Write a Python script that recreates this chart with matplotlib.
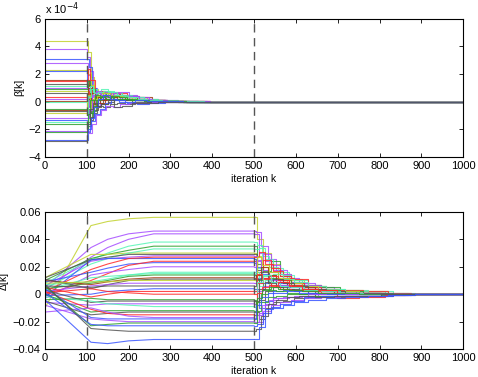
"""Two-panel convergence plot: beta[k] (top) and Delta[k] (bottom) vs iteration k."""

import matplotlib
matplotlib.use("Agg")
import matplotlib.pyplot as plt  # noqa: E402
from matplotlib.ticker import FuncFormatter  # noqa: E402

plt.rcParams["font.family"] = ["Liberation Sans", "DejaVu Sans"]

# ---------------- top panel: beta[k], values in units of 1e-4 ----------------
# step knots (value at knot holds until the next knot); lines cycle through the sets
beta_knot_sets = [
    [0, 104, 110, 118, 128, 140, 155, 172, 192, 215, 245, 280, 330, 380, 1000],
    [0, 101, 107, 114, 124, 135, 150, 166, 185, 207, 236, 270, 318, 365, 1000],
    [0, 106, 113, 122, 133, 146, 162, 180, 200, 224, 255, 292, 345, 395, 1000],
    [0, 102, 108, 120, 131, 143, 159, 176, 196, 220, 250, 286, 338, 388, 1000],
]
beta_start = [4.4, 3.8, 3.1, 2.8, 2.3, 2.25, 1.6, 1.5, 1.3, 1.1, 1.0, 0.9, 0.75, 0.6, 0.3,
              0.2, 0.05, -0.05, -0.5, -0.6, -0.7, -0.85, -1.2, -1.3, -1.5, -1.6, -2.1, -2.2,
              -2.8, -2.85]
beta_s1 = [3.6, 3.2, 2.5, 1.9, 2.0, 1.2, 1.1, 2.4, 0.6, 0.9, -0.4, 1.5, 0.2, -1.0, 0.8,
           -0.3, 1.0, 0.4, -1.2, 0.2, -1.8, 0.5, -0.6, -2.2, 0.3, -1.5, -2.3, -0.9, -2.0, -1.6]
beta_s2 = [1.8, 2.2, 1.0, 0.5, 1.2, -0.4, 0.6, 1.6, -0.8, 0.7, 0.3, 0.9, -0.6, -1.3, 0.5,
           0.4, 0.2, 1.1, -0.7, 0.6, -1.1, -0.2, 0.5, -1.4, 0.9, -0.8, -1.6, 0.1, -1.2, -0.5]
beta_s3 = [0.9, 1.0, 0.4, -0.3, 0.8, 0.2, 0.3, 0.7, -0.4, 0.9, 0.6, 0.2, 0.3, -0.8, 0.1,
           0.7, -0.2, 0.5, 0.4, 0.3, -0.6, 0.2, 0.8, -0.9, 0.6, -0.3, -1.0, 0.5, -0.4, -0.1]
beta_s4 = [0.6, 0.7, 0.5, 0.2, 0.4, 0.6, 0.1, 0.8, -0.1, 0.6, 0.3, 0.5, 0.7, -0.4, 0.4,
           0.5, 0.3, 0.2, 0.6, -0.1, -0.3, 0.4, 0.5, -0.5, 0.7, 0.1, -0.6, 0.3, 0.2, -0.3]
beta_s5 = [0.5, 0.8, 0.3, 0.6, 0.7, 0.4, 0.5, 0.6, 0.2, 0.9, 0.4, 0.3, 0.6, -0.2, 0.5,
           0.7, 0.1, 0.4, 0.3, 0.2, -0.4, 0.6, 0.3, -0.1, 0.8, 0.4, -0.3, 0.2, 0.5, -0.2]
beta_s6 = [0.6, 0.5, 0.4, 0.7, 0.5, 0.3, 0.6, 0.4, 0.3, 0.8, 0.2, 0.5, 0.4, 0.0, 0.6,
           0.5, 0.3, 0.7, 0.2, 0.4, -0.2, 0.5, 0.6, 0.1, 0.7, 0.3, -0.4, 0.4, 0.2, 0.1]
beta_s7 = [0.4, 0.6, 0.5, 0.4, 0.3, 0.5, 0.4, 0.6, 0.2, 0.6, 0.4, 0.3, 0.5, 0.1, 0.4,
           0.3, 0.5, 0.5, 0.2, 0.3, -0.1, 0.4, 0.7, 0.0, 0.5, 0.2, -0.2, 0.3, 0.1, -0.4]
beta_s8 = [0.3, 0.4, 0.3, 0.5, 0.3, 0.2, 0.4, 0.3, 0.1, 0.5, 0.2, 0.4, 0.2, 0.1, 0.3,
           0.4, 0.2, 0.4, 0.1, 0.2, -0.2, 0.3, 0.4, -0.1, 0.3, 0.2, -0.1, 0.2, 0.0, -0.3]
beta_s9 = [0.2, 0.3, 0.2, 0.2, 0.3, 0.1, 0.3, 0.2, 0.1, 0.3, 0.2, 0.2, 0.1, 0.0, 0.2,
           0.3, 0.1, 0.3, 0.1, 0.1, -0.1, 0.2, 0.2, -0.2, 0.2, 0.1, -0.1, 0.1, 0.1, -0.1]
beta_s10 = [0.1, 0.2, 0.1, 0.15, 0.1, 0.05, 0.15, 0.1, 0.05, 0.2, 0.1, 0.1, 0.05, 0.0, 0.1,
            0.15, 0.05, 0.2, 0.05, 0.1, -0.05, 0.1, 0.1, -0.1, 0.15, 0.05, -0.05, 0.05, 0.05,
            -0.1]
beta_s11 = [0.05, 0.1, 0.05, 0.08, 0.05, 0.03, 0.06, 0.05, 0.02, 0.1, 0.05, 0.04, 0.02, 0.0,
            0.05, 0.06, 0.02, 0.08, 0.03, 0.05, -0.02, 0.04, 0.05, -0.04, 0.06, 0.02, -0.03,
            0.02, 0.03, -0.04]
beta_s12 = [0.02, 0.03, 0.01, 0.02, 0.02, 0.01, 0.02, 0.01, 0.0, 0.03, 0.01, 0.01, 0.0, 0.0,
            0.02, 0.02, 0.01, 0.03, 0.01, 0.01, -0.01, 0.01, 0.02, -0.01, 0.02, 0.0, -0.01,
            0.01, 0.01, -0.01]
beta_end = [0.0] * 30
beta_colors = ["y", "p", "b", "p", "y", "b", "n", "r", "k", "c", "p", "g", "y", "k", "r",
               "p", "n", "c", "g", "n", "k", "y", "p", "b", "c", "g", "p", "g", "b", "k"]

# ---------------- bottom panel: Delta[k] ----------------
# smooth part (k = 0 .. 500)
delta_knots = [0, 110, 150, 200, 260, 500]
delta_start = [-0.010, 0.005, 0.003, 0.008, 0.010, 0.012, 0.004, 0.012, 0.006, -0.002,
               0.002, 0.009, 0.000, -0.003, 0.007, 0.003, 0.004, 0.010, 0.011, 0.008,
               0.002, 0.006, -0.001, 0.005, 0.001, -0.004, 0.003, -0.006, -0.002, 0.000,
               -0.005, 0.002, -0.013, 0.004, -0.008, 0.006, 0.001, 0.007, -0.004]
delta_110 = [0.050, 0.034, 0.027, 0.025, 0.026, 0.029, 0.022, 0.025, 0.024, 0.025,
             0.018, 0.016, 0.010, 0.014, 0.009, 0.012, 0.008, 0.007, 0.004, 0.009,
             0.006, 0.005, 0.000, -0.002, 0.004, -0.003, -0.006, -0.008, -0.005, -0.013,
             -0.015, -0.011, -0.010, -0.017, -0.018, -0.023, -0.022, -0.025, -0.035]
delta_150 = [0.053, 0.040, 0.034, 0.030, 0.029, 0.029, 0.026, 0.027, 0.026, 0.026,
             0.022, 0.019, 0.015, 0.016, 0.011, 0.013, 0.010, 0.009, 0.007, 0.009,
             0.007, 0.006, 0.002, 0.000, 0.002, -0.004, -0.005, -0.007, -0.007, -0.012,
             -0.014, -0.014, -0.013, -0.018, -0.019, -0.022, -0.023, -0.026, -0.036]
delta_200 = [0.055, 0.044, 0.040, 0.035, 0.032, 0.030, 0.030, 0.029, 0.027, 0.026,
             0.026, 0.022, 0.021, 0.018, 0.014, 0.014, 0.013, 0.011, 0.010, 0.010,
             0.008, 0.006, 0.003, 0.002, 0.001, -0.004, -0.005, -0.007, -0.008, -0.012,
             -0.013, -0.015, -0.016, -0.018, -0.020, -0.021, -0.023, -0.027, -0.034]
delta_plateau = [0.056, 0.046, 0.044, 0.038, 0.035, 0.030, 0.033, 0.029, 0.028, 0.026,
                 0.027, 0.023, 0.024, 0.020, 0.016, 0.015, 0.014, 0.012, 0.011, 0.010,
                 0.008, 0.006, 0.004, 0.002, 0.000, -0.004, -0.005, -0.007, -0.009, -0.012,
                 -0.013, -0.015, -0.017, -0.018, -0.020, -0.021, -0.023, -0.027, -0.033]
# step part (k = 500 .. 1000); lines cycle through the knot sets
delta_knot_sets = [
    [500, 508, 522, 540, 562, 588, 620, 660, 705, 760, 820, 875, 1000],
    [500, 504, 516, 533, 553, 578, 608, 646, 690, 744, 804, 860, 1000],
    [500, 511, 527, 546, 569, 596, 630, 672, 718, 772, 832, 885, 1000],
    [500, 506, 519, 536, 557, 583, 614, 653, 698, 752, 812, 868, 1000],
]
delta_s1 = [0.040, 0.045, 0.030, 0.036, 0.022, 0.028, 0.034, 0.018, 0.025, 0.012,
            0.031, 0.020, 0.016, 0.024, 0.006, 0.019, 0.010, 0.014, -0.004, 0.027,
            0.002, 0.011, -0.010, 0.015, 0.008, -0.012, 0.004, -0.015, 0.009, -0.006,
            -0.018, 0.001, -0.020, -0.008, -0.014, -0.003, -0.022, -0.025, -0.024]
delta_s2 = [0.030, 0.035, 0.024, 0.028, 0.017, 0.020, 0.026, 0.012, 0.029, 0.008,
            0.022, 0.015, 0.025, 0.018, 0.010, 0.013, 0.004, 0.020, 0.002, 0.021,
            0.006, 0.016, -0.005, 0.011, 0.012, -0.006, 0.009, -0.008, 0.014, 0.000,
            -0.010, 0.005, -0.012, -0.002, -0.007, 0.003, -0.014, -0.016, -0.011]
delta_s3 = [0.022, 0.026, 0.018, 0.020, 0.024, 0.014, 0.019, 0.016, 0.021, 0.011,
            0.017, 0.009, 0.019, 0.013, 0.015, 0.007, 0.012, 0.014, 0.005, 0.016,
            0.010, 0.008, 0.002, 0.013, 0.006, -0.002, 0.011, -0.004, 0.009, 0.003,
            -0.006, 0.007, -0.008, 0.001, -0.003, 0.005, -0.009, -0.007, -0.010]
delta_s4 = [0.015, 0.018, 0.012, 0.016, 0.013, 0.010, 0.014, 0.011, 0.015, 0.007,
            0.012, 0.008, 0.013, 0.009, 0.011, 0.006, 0.010, 0.009, 0.004, 0.012,
            0.007, 0.005, 0.003, 0.010, 0.004, -0.001, 0.008, -0.003, 0.006, 0.002,
            -0.005, 0.009, -0.006, 0.001, -0.002, 0.004, -0.007, -0.004, -0.008]
delta_s5 = [0.010, 0.012, 0.008, 0.011, 0.009, 0.007, 0.010, 0.008, 0.009, 0.005,
            0.011, 0.006, 0.008, 0.007, 0.009, 0.004, 0.007, 0.006, 0.003, 0.008,
            0.005, 0.004, 0.002, 0.007, 0.003, 0.000, 0.006, -0.002, 0.005, 0.001,
            -0.003, 0.006, -0.004, 0.002, -0.001, 0.003, -0.005, -0.002, -0.006]
delta_s6 = [0.007, 0.008, 0.005, 0.006, 0.007, 0.004, 0.006, 0.005, 0.007, 0.003,
            0.006, 0.004, 0.005, 0.005, 0.006, 0.002, 0.004, 0.005, 0.001, 0.006,
            0.003, 0.003, 0.001, 0.004, 0.002, 0.000, 0.004, -0.001, 0.003, 0.000,
            -0.002, 0.004, -0.003, 0.001, 0.000, 0.002, -0.002, -0.001, -0.004]
delta_s7 = [0.004, 0.005, 0.003, 0.004, 0.005, 0.002, 0.004, 0.003, 0.004, 0.002,
            0.003, 0.003, 0.004, 0.002, 0.004, 0.001, 0.003, 0.002, 0.001, 0.003,
            0.002, 0.001, 0.000, 0.003, 0.001, -0.001, 0.002, 0.000, 0.002, -0.001,
            -0.002, 0.003, -0.002, 0.000, 0.001, 0.001, -0.001, -0.002, -0.003]
delta_s8 = [0.003, 0.002, 0.002, 0.003, 0.002, 0.001, 0.003, 0.002, 0.002, 0.001,
            0.002, 0.002, 0.003, 0.001, 0.002, 0.001, 0.002, 0.001, 0.000, 0.002,
            0.001, 0.001, 0.000, 0.001, 0.000, -0.001, 0.001, 0.000, 0.001, -0.001,
            -0.001, -0.003, -0.001, 0.000, 0.000, 0.001, -0.001, -0.001, -0.002]
delta_s9 = [0.002, 0.001, 0.001, 0.002, 0.001, 0.001, 0.002, 0.001, 0.001, 0.000,
            0.001, 0.001, 0.002, 0.001, 0.001, 0.000, 0.001, 0.001, 0.000, 0.001,
            0.000, 0.001, 0.000, 0.001, 0.000, -0.001, 0.001, 0.000, 0.000, -0.001,
            -0.001, -0.002, -0.001, 0.000, 0.000, 0.000, -0.001, -0.001, -0.001]
delta_s10 = [0.0008, 0.0005, 0.0004, 0.0007, 0.0004, 0.0003, 0.0006, 0.0004, 0.0005, 0.0001,
             0.0004, 0.0003, 0.0006, 0.0002, 0.0004, 0.0001, 0.0003, 0.0002, 0.0000, 0.0004,
             0.0001, 0.0002, 0.0000, 0.0003, 0.0000, -0.0003, 0.0002, -0.0001, 0.0001,
             -0.0002, -0.0004, -0.0006, -0.0003, 0.0000, 0.0000, 0.0001, -0.0003, -0.0002,
             -0.0004]
delta_end = [0.0] * 39
delta_colors = ["y", "p", "p", "c", "g", "y", "c", "k", "p", "b", "r", "b", "r", "p", "c",
                "c", "g", "n", "k", "y", "p", "k", "b", "r", "r", "g", "k", "p", "c", "g",
                "k", "r", "p", "b", "p", "g", "b", "k", "b"]

# marker lines
switch_ks = [100, 500]

PALETTE = {
    "y": "#c2d22e", "p": "#a64dff", "b": "#3a55ff", "g": "#2fa02f",
    "r": "#ff2a2a", "c": "#55f5b5", "k": "#555555", "n": "#a23a12",
}
LW = 0.8
ALPHA = 0.85


def style_axes(ax, yticks, ylabel, fmt):
    ax.set_xlim(0, 1000)
    ax.set_xticks(range(0, 1001, 100))
    ax.set_yticks(yticks)
    ax.set_ylim(yticks[0], yticks[-1])
    ax.yaxis.set_major_formatter(FuncFormatter(fmt))
    ax.tick_params(direction="in", top=True, right=True, labelsize=8,
                   length=3, width=0.6, pad=3)
    for sp in ax.spines.values():
        sp.set_linewidth(0.8)
    ax.set_xlabel("iteration k", fontsize=7.5, labelpad=2)
    ax.set_ylabel(ylabel, fontsize=7.5, labelpad=3)
    for k in switch_ks:
        ax.axvline(k, color="#555555", lw=1.0, ls=(0, (6, 4)), zorder=5)


def minus(s):
    return s.replace("-", "\u2212")


fig = plt.figure(figsize=(4.78, 3.77), dpi=100)
ax1 = fig.add_axes([0.094, 0.584, 0.875, 0.366])
ax2 = fig.add_axes([0.094, 0.074, 0.875, 0.364])

beta_cols = [beta_start, beta_s1, beta_s2, beta_s3, beta_s4, beta_s5, beta_s6, beta_s7,
             beta_s8, beta_s9, beta_s10, beta_s11, beta_s12, beta_end, beta_end]
for i, c in enumerate(beta_colors):
    ks = beta_knot_sets[i % len(beta_knot_sets)]
    ys = [col[i] for col in beta_cols]
    ax1.plot(ks, ys, drawstyle="steps-post", color=PALETTE[c], lw=LW, alpha=ALPHA)
style_axes(ax1, [-4, -2, 0, 2, 4, 6], "\u03b2[k]",
           lambda v, p: minus(f"{v:g}"))
ax1.text(0.0, 1.01, r"x 10$^{-4}$", transform=ax1.transAxes, fontsize=8,
         ha="left", va="bottom")

smooth_cols = [delta_start, delta_110, delta_150, delta_200, delta_plateau, delta_plateau]
step_cols = [delta_plateau, delta_s1, delta_s2, delta_s3, delta_s4, delta_s5, delta_s6,
             delta_s7, delta_s8, delta_s9, delta_s10, delta_end, delta_end]
for i, c in enumerate(delta_colors):
    ax2.plot(delta_knots, [col[i] for col in smooth_cols], color=PALETTE[c], lw=LW,
             alpha=ALPHA)
    ks = delta_knot_sets[i % len(delta_knot_sets)]
    ax2.plot(ks, [col[i] for col in step_cols], drawstyle="steps-post",
             color=PALETTE[c], lw=LW, alpha=ALPHA)
style_axes(ax2, [-0.04, -0.02, 0, 0.02, 0.04, 0.06], "\u0394[k]",
           lambda v, p: "0" if abs(v) < 1e-12 else minus(f"{v:.2f}"))

fig.savefig("out.png", dpi=100)
